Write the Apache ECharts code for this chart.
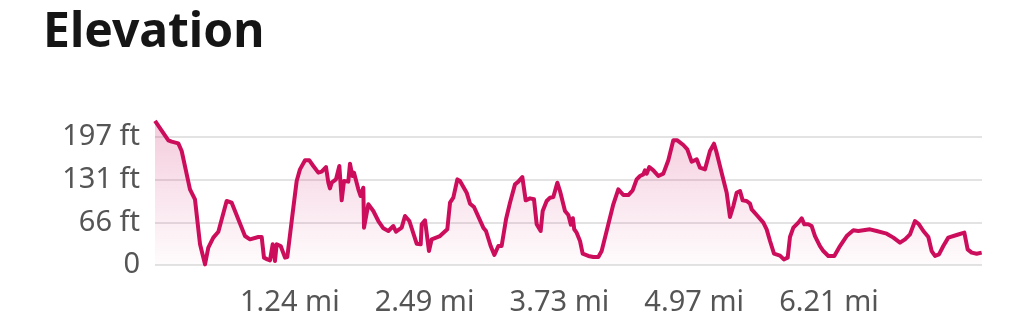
<!DOCTYPE html>
<html>
<head>
<meta charset="utf-8">
<script src="https://cdn.jsdelivr.net/npm/echarts@6/dist/echarts.min.js"></script>
<style>
  html, body { margin: 0; padding: 0; background: #fff; }
  #chart { width: 1024px; height: 331px; }
</style>
</head>
<body>
<div id="chart"></div>
<script>
// Distance along the route (km) and elevation (ft)
const distKm = [
  0, 0.198, 0.247, 0.346, 0.396, 0.519, 0.593, 0.668, 0.742, 0.791,
  0.865, 0.940, 1.063, 1.138, 1.335, 1.409, 1.533, 1.583, 1.617, 1.667,
  1.706, 1.746, 1.780, 1.805, 1.865, 1.929, 1.963, 2.028, 2.102, 2.151,
  2.226, 2.290, 2.349, 2.423, 2.473, 2.537, 2.572, 2.596, 2.621, 2.685,
  2.735, 2.770, 2.804, 2.868, 2.893, 2.928, 2.953, 3.017, 3.051, 3.091,
  3.101, 3.165, 3.239, 3.314, 3.388, 3.462, 3.536, 3.576, 3.660, 3.709,
  3.774, 3.882, 3.942, 3.957, 4.006, 4.065, 4.105, 4.228, 4.337, 4.377,
  4.426, 4.486, 4.525, 4.624, 4.674, 4.733, 4.871, 4.911, 4.980, 5.035,
  5.094, 5.143, 5.208, 5.267, 5.341, 5.391, 5.450, 5.500, 5.564, 5.623,
  5.663, 5.722, 5.752, 5.811, 5.861, 5.910, 5.969, 6.009, 6.083, 6.133,
  6.170, 6.200, 6.220,
  6.256, 6.306, 6.345, 6.429, 6.503, 6.578, 6.627, 6.726, 6.800, 6.874,
  6.949, 7.023, 7.087, 7.146, 7.196, 7.245, 7.270, 7.295, 7.334, 7.394,
  7.468, 7.542, 7.616, 7.690, 7.750, 7.839, 7.898, 7.962, 8.037, 8.086,
  8.160, 8.234, 8.294, 8.333, 8.407, 8.482, 8.531, 8.581, 8.630, 8.680,
  8.719, 8.778, 8.828, 8.853, 8.927, 9.026, 9.075, 9.125, 9.184,
  9.273, 9.330, 9.387, 9.421, 9.471, 9.545, 9.595, 9.634, 9.693, 9.743,
  9.792, 9.866, 9.916, 9.990, 10.079, 10.163, 10.262, 10.361, 10.435, 10.608,
  10.707, 10.856, 10.955, 11.053, 11.128, 11.202, 11.276, 11.335, 11.400, 11.474,
  11.523, 11.573, 11.632, 11.696, 11.770, 11.894, 12.008, 12.057, 12.117, 12.191,
  12.265
];
const elevFt = [
  222, 191.9, 189.8, 187.2, 175.4, 116.5, 101.1, 31.8, 1.0, 26.7,
  42.1, 51.3, 98.5, 95.9, 44.6, 39.5, 43.1, 43.1, 11.3, 8.7,
  7.2, 31.8, 6.2, 31.8, 29.2, 11.3, 12.3, 67.7, 129.3, 147.2,
  161.1, 161.1, 152.4, 142.1, 143.6, 150.8, 126.7, 118, 126.7, 131.8,
  152.4, 99.5, 129.3, 128.3, 156, 137, 142.1, 116.5, 106.2, 119,
  57.5, 93.4, 83.1, 67.7, 56.4, 52.3, 60, 51.3, 57.5, 75.4,
  67.7, 32.8, 31.8, 62.6, 68.7, 21.5, 39.5, 44.6, 54.9, 95.9,
  103.6, 131.8, 129.3, 111.3, 94.4, 89.3, 57.5, 52.3, 29.2, 15.4,
  29.2, 29.2, 70.3, 95.9, 124.1, 128.3, 135.4, 99.5, 102.6, 101.1,
  62.6, 52.3, 83.1, 98.5, 103.6, 104.7, 126.7, 113.9, 83.1, 77,
  62, 72, 55,
  49.8, 36.9, 17.4, 13.9, 12.3, 12.3, 21.5, 62.6, 93.4, 116.5,
  107.7, 107.7, 114.9, 131.8, 137, 139.5, 145.7, 140.6, 150.8, 145.7,
  137, 140.6, 161.1, 191.9, 191.9, 184.7, 178, 159, 162.6, 149.8,
  147.2, 175.4, 186.7, 172.9, 142.1, 111.3, 73.9, 90.8, 111.3, 113.9,
  99.5, 98.5, 94.4, 85.7, 77, 65.2, 54.9, 36.9, 17.4,
  14.5, 8.7, 11.3, 43.1, 57.5, 65.2, 71.8, 62.6, 62.6, 60,
  44.6, 29.2, 21.5, 13.9, 13.9, 29.2, 44.6, 53.4, 52.3, 54.9,
  52.3, 48.2, 42.1, 34.4, 39.5, 47.2, 67.7, 62.6, 52.3, 43.1,
  21.5, 13.9, 16.4, 29.2, 42.1, 46.2, 49.8, 24.1, 19, 17.4,
  19
];
// Axis ticks
const xTickKm = [2, 4, 6, 8, 10];
const xTickLabels = ['1.24 mi', '2.49 mi', '3.73 mi', '4.97 mi', '6.21 mi'];
const yTickFt = [0, 197 / 3, 2 * 197 / 3, 197];
const yTickLabels = ['0', '66 ft', '131 ft', '197 ft'];

const points = distKm.map((d, i) => [d, elevFt[i]]);
const chart = echarts.init(document.getElementById('chart'), null, { renderer: 'canvas' });
const labelFont = '"Noto Sans", "Open Sans", sans-serif';

chart.setOption({
  animation: false,
  title: {
    text: 'Elevation',
    left: 38,
    top: 4,
    textStyle: { fontFamily: labelFont, fontSize: 48, fontWeight: 'bold', color: '#151515' }
  },
  grid: { left: 155, right: 42, top: 137, bottom: 66 },
  xAxis: {
    type: 'value',
    min: 0,
    max: 12.27,
    interval: 2,
    axisLine: { show: false },
    axisTick: { show: false },
    splitLine: { show: false },
    axisLabel: {
      margin: 23,
      fontFamily: labelFont,
      fontSize: 29,
      color: '#555',
      formatter: v => {
        const i = xTickKm.findIndex(t => Math.abs(t - v) < 1e-6);
        return i >= 0 ? xTickLabels[i] : '';
      }
    }
  },
  yAxis: {
    type: 'value',
    min: 0,
    max: 197,
    interval: 197 / 3,
    axisLine: { show: false },
    axisTick: { show: false },
    splitLine: { lineStyle: { color: '#e3e3e3', width: 2 } },
    axisLabel: {
      margin: 15,
      fontFamily: labelFont,
      fontSize: 29,
      color: '#555',
      formatter: v => {
        const i = yTickFt.findIndex(t => Math.abs(t - v) < 0.01);
        return i >= 0 ? yTickLabels[i] : '';
      }
    }
  },
  series: [{
    type: 'line',
    data: points,
    showSymbol: false,
    clip: false,
    lineStyle: { color: '#cc0d5b', width: 4, join: 'round' },
    areaStyle: {
      color: new echarts.graphic.LinearGradient(0, 0, 0, 1, [
        { offset: 0, color: 'rgba(204,13,91,0.30)' },
        { offset: 1, color: 'rgba(204,13,91,0.02)' }
      ])
    }
  }]
});
</script>
</body>
</html>
